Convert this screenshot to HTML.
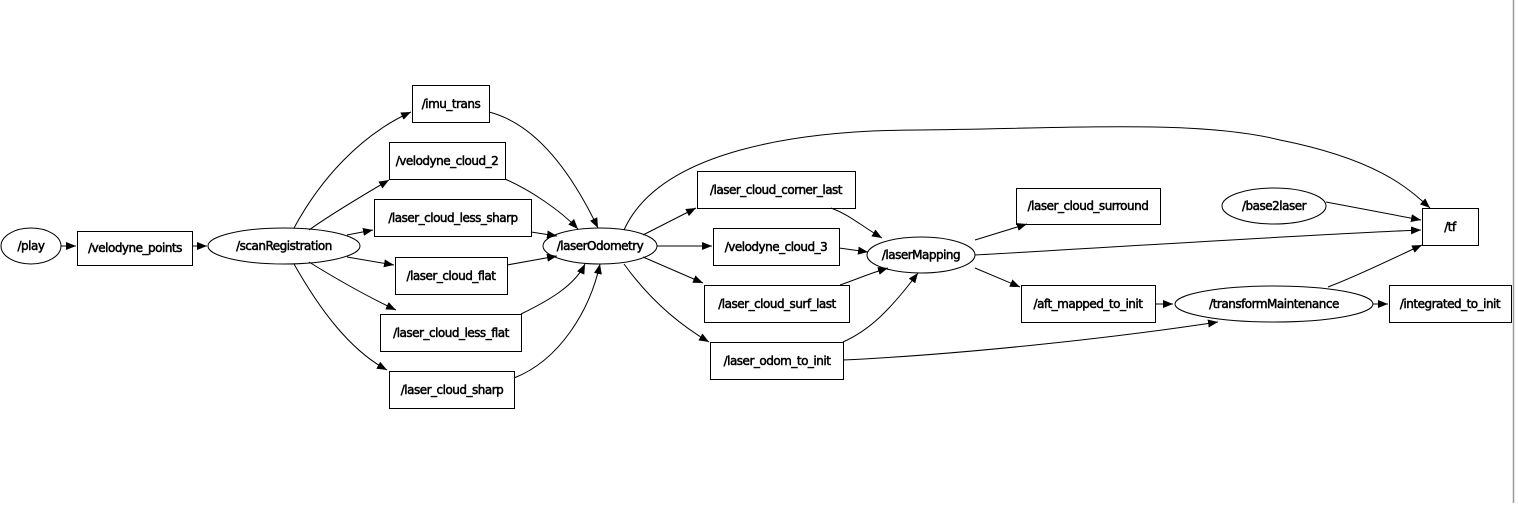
<!DOCTYPE html>
<html><head><style>
body{margin:0;background:#fff;}
svg text{font-family:"DejaVu Sans","Liberation Sans",sans-serif;font-size:12px;letter-spacing:-0.5px;text-anchor:middle;dominant-baseline:central;fill:#000;stroke:#000;stroke-width:0.5px}
</style></head><body>
<svg width="1518" height="503" viewBox="0 0 1518 503" xmlns="http://www.w3.org/2000/svg">
<defs><marker id="a" markerWidth="10" markerHeight="8" refX="10" refY="4" orient="auto" markerUnits="userSpaceOnUse"><path d="M0,0L10,4L0,8z" fill="#000"/></marker></defs>
<line x1="1513.5" y1="0" x2="1513.5" y2="503" stroke="#999" stroke-width="1.5"/>
<g fill="none" stroke="#000" stroke-width="1" marker-end="url(#a)">
<path d="M61,246L76,246"/>
<path d="M193,246L207,246"/>
<path d="M294,228C320,180 360,135 411,112"/>
<path d="M309,230C330,215 360,197 389,180"/>
<path d="M347,235L373,230"/>
<path d="M347,257L394,265"/>
<path d="M309,262C330,275 360,293 396,310"/>
<path d="M294,264C320,310 350,350 387,370"/>
<path d="M489,112C540,125 575,180 598,228"/>
<path d="M505,179C530,190 560,210 578,229"/>
<path d="M531,232L557,236"/>
<path d="M507,265L557,256"/>
<path d="M521,314C550,300 575,285 585,264"/>
<path d="M514,378C560,360 590,310 600,264"/>
<path d="M624,230C660,150 800,130 920,130C1080,128 1200,120 1280,140C1380,160 1410,190 1430,208"/>
<path d="M643,235L696,208"/>
<path d="M657,246L712,246"/>
<path d="M643,257L703,283"/>
<path d="M624,264C650,300 680,325 709,342"/>
<path d="M831,208C850,215 860,225 882,238"/>
<path d="M839,248L868,252"/>
<path d="M840,285C855,280 865,275 888,268"/>
<path d="M843,342C870,330 890,310 918,273"/>
<path d="M975,240L1027,224"/>
<path d="M975,255C1100,248 1300,235 1421,230"/>
<path d="M975,268L1020,287"/>
<path d="M843,360C950,355 1100,340 1218,322"/>
<path d="M1155,304L1173,304"/>
<path d="M1326,202L1421,220"/>
<path d="M1328,287C1360,275 1400,255 1422,245"/>
<path d="M1373,304L1388,304"/>
</g>
<g fill="none" stroke="#000" stroke-width="1">
<ellipse cx="31" cy="246" rx="30" ry="18"/>
<rect x="77.5" y="231.5" width="115" height="34"/>
<ellipse cx="284" cy="246" rx="76" ry="18"/>
<rect x="412.5" y="85.5" width="77" height="37"/>
<rect x="389.5" y="142.5" width="116" height="37"/>
<rect x="374.5" y="199.5" width="157" height="37"/>
<rect x="395.5" y="257.5" width="112" height="37"/>
<rect x="380.5" y="314.5" width="141" height="37"/>
<rect x="389.5" y="371.5" width="125" height="37"/>
<ellipse cx="600" cy="246" rx="57" ry="18"/>
<rect x="697.5" y="171.5" width="158" height="37"/>
<rect x="713.5" y="228.5" width="126" height="37"/>
<rect x="704.5" y="285.5" width="145" height="37"/>
<rect x="710.5" y="342.5" width="133" height="37"/>
<ellipse cx="921" cy="255" rx="54" ry="18"/>
<rect x="1016.5" y="188.5" width="144" height="36"/>
<ellipse cx="1274" cy="206" rx="52" ry="18"/>
<rect x="1422.5" y="208.5" width="56" height="37"/>
<rect x="1021.5" y="285.5" width="134" height="37"/>
<ellipse cx="1274" cy="304" rx="99" ry="18"/>
<rect x="1389.5" y="285.5" width="122" height="37"/>
</g>
<text x="31" y="246">/play</text>
<text x="135" y="248">/velodyne_points</text>
<text x="284" y="246">/scanRegistration</text>
<text x="451" y="104">/imu_trans</text>
<text x="447" y="161">/velodyne_cloud_2</text>
<text x="453" y="218">/laser_cloud_less_sharp</text>
<text x="451" y="276">/laser_cloud_flat</text>
<text x="451" y="333">/laser_cloud_less_flat</text>
<text x="452" y="390">/laser_cloud_sharp</text>
<text x="600" y="246">/laserOdometry</text>
<text x="776" y="190">/laser_cloud_corner_last</text>
<text x="776" y="247">/velodyne_cloud_3</text>
<text x="777" y="304">/laser_cloud_surf_last</text>
<text x="777" y="361">/laser_odom_to_init</text>
<text x="921" y="255">/laserMapping</text>
<text x="1088" y="206">/laser_cloud_surround</text>
<text x="1274" y="206">/base2laser</text>
<text x="1450" y="227">/tf</text>
<text x="1088" y="304">/aft_mapped_to_init</text>
<text x="1274" y="304">/transformMaintenance</text>
<text x="1450" y="304">/integrated_to_init</text>
</svg>
</body></html>
